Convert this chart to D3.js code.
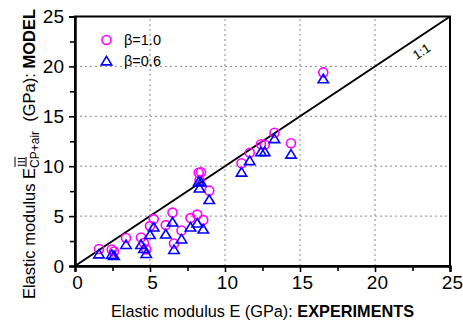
<!DOCTYPE html>
<html>
<head>
<meta charset="utf-8">
<script src="https://cdn.jsdelivr.net/npm/d3@7"></script>
<style>
  html, body { margin: 0; padding: 0; background: #fff; }
  svg { display: block; font-family: "Liberation Sans", Arial, Helvetica, sans-serif; }
</style>
</head>
<body>
<svg id="chart" width="463" height="327"></svg>
<script>
// Measured elastic modulus E (GPa)
const experiments = [1.6, 2.45, 2.6, 3.4, 4.4, 4.6, 4.75, 5.0, 5.25, 6.05, 6.5, 6.6, 7.1, 7.7,
  8.15, 8.55, 8.25, 8.4, 8.3, 8.95, 11.1, 11.65, 12.4, 12.65, 13.3, 14.4, 16.55];
// Model prediction with beta = 1.0
const modelBeta10 = [1.7, 1.65, 1.45, 2.8, 2.85, 2.3, 1.65, 4.0, 4.7, 4.1, 5.35, 2.25, 3.55, 4.8,
  5.15, 4.6, 9.35, 9.4, 8.6, 7.55, 10.3, 11.35, 12.2, 12.15, 13.35, 12.3, 19.4];
// Model prediction with beta = 0.6
const modelBeta06 = [1.2, 1.15, 1.05, 2.15, 2.15, 1.75, 1.25, 3.15, 3.9, 3.2, 4.4, 1.65, 2.7, 3.9,
  4.3, 3.7, 8.45, 8.4, 7.8, 6.65, 9.4, 10.55, 11.45, 11.45, 12.75, 11.2, 18.75];

const majorTicks = [0, 5, 10, 15, 20, 25];
const minorTicks = [2.5, 7.5, 12.5, 17.5, 22.5];
const legendLabels = ["\u03B2=1.0", "\u03B2=0.6"];

const svg = d3.select("#chart");
const plotLeft = 75, plotRight = 450, plotTop = 16.5, plotBottom = 266;
const x = d3.scaleLinear().domain([0, 25]).range([plotLeft, plotRight]);
const y = d3.scaleLinear().domain([0, 25]).range([plotBottom, plotTop]);

const MAGENTA = "#ff00ff", BLUE = "#0000ff";

// dotted grid
const grid = svg.append("g");
grid.selectAll("line.gx").data(majorTicks.slice(1, -1)).join("line")
  .attr("x1", d => x(d)).attr("x2", d => x(d)).attr("y1", y(0)).attr("y2", y(25))
  .attr("stroke", "#888").attr("stroke-width", 1).attr("stroke-dasharray", "2,3");
grid.selectAll("line.gy").data(majorTicks.slice(1, -1)).join("line")
  .attr("y1", d => y(d)).attr("y2", d => y(d)).attr("x1", x(0)).attr("x2", x(25))
  .attr("stroke", "#888").attr("stroke-width", 1).attr("stroke-dasharray", "2,3");

// 1:1 line with its label just below it
svg.append("line")
  .attr("x1", x(0)).attr("y1", y(0)).attr("x2", x(25)).attr("y2", y(25))
  .attr("stroke", "#000").attr("stroke-width", 2);
const ang = Math.atan2(y(0) - y(25), x(25) - x(0)) * 180 / Math.PI;
svg.append("text")
  .attr("transform", `translate(${x(23.1)},${y(23.1) + 16}) rotate(${-ang})`)
  .attr("text-anchor", "middle")
  .attr("dy", "0.35em")
  .attr("font-size", 13)
  .text("1:1");

// markers
const rows = experiments.map((e, i) => ({ e, b10: modelBeta10[i], b06: modelBeta06[i] }));
const triPath = "M0,-4.6L5.2,3.9L-5.2,3.9Z";

svg.append("g").selectAll("circle").data(rows).join("circle")
  .attr("cx", d => x(d.e)).attr("cy", d => y(d.b10)).attr("r", 4.5)
  .attr("fill", "none").attr("stroke", MAGENTA).attr("stroke-width", 1.6);
svg.append("g").selectAll("path").data(rows).join("path")
  .attr("transform", d => `translate(${x(d.e)},${y(d.b06)})`)
  .attr("d", triPath)
  .attr("fill", "none").attr("stroke", BLUE).attr("stroke-width", 1.6);

// frame
svg.append("rect")
  .attr("x", x(0)).attr("y", y(25)).attr("width", x(25) - x(0)).attr("height", y(0) - y(25))
  .attr("fill", "none").attr("stroke", "#000").attr("stroke-width", 2);

// axes
const fmt = d3.format("d");
const xAxis = svg.append("g").attr("transform", `translate(0,${plotBottom})`)
  .call(d3.axisBottom(x).tickValues(majorTicks).tickSize(6).tickFormat(fmt));
const xMinor = svg.append("g").attr("transform", `translate(0,${plotBottom})`)
  .call(d3.axisBottom(x).tickValues(minorTicks).tickSize(5).tickFormat(""));
const yAxis = svg.append("g").attr("transform", `translate(${plotLeft},0)`)
  .call(d3.axisLeft(y).tickValues(majorTicks).tickSize(6).tickFormat(fmt));
const yMinor = svg.append("g").attr("transform", `translate(${plotLeft},0)`)
  .call(d3.axisLeft(y).tickValues(minorTicks).tickSize(5).tickFormat(""));

[xAxis, xMinor, yAxis, yMinor].forEach(g => {
  g.select(".domain").attr("stroke-width", 2);
  g.selectAll(".tick line").attr("stroke-width", 1.6);
  g.selectAll("text").attr("font-family", null).attr("font-size", 19).attr("fill", "#000");
});
xAxis.selectAll(".tick text").attr("y", 10).attr("dx", "0.1em");
yAxis.selectAll(".tick text").attr("x", -11);

// x axis title
const xt = svg.append("text")
  .attr("x", (plotLeft + plotRight) / 2).attr("y", 317)
  .attr("text-anchor", "middle").attr("font-size", 16.3);
xt.append("tspan").text("Elastic modulus E (GPa):\u00A0");
xt.append("tspan").attr("font-weight", "bold").text("EXPERIMENTS");

// y axis title, built piece by piece so the super/subscripts can be stacked
const yt = svg.append("g").attr("transform", `translate(35,154) rotate(-90)`);
let cursor = 0;
function piece(str, opts) {
  return yt.append("text").attr("x", cursor).attr("y", opts.dy || 0)
    .attr("font-size", opts.size || 16.5).attr("font-weight", opts.weight || "normal")
    .text(str);
}
const p1 = piece("Elastic modulus E", {}); cursor += p1.node().getComputedTextLength();
const sup = piece("III", { size: 10, dy: -10.5 })
  .attr("font-family", "'Liberation Serif', 'Times New Roman', serif")
  .attr("text-decoration", "overline underline")
  .attr("x", cursor + 1);
const sub = piece("CP+air", { size: 12, dy: 4 });
cursor += Math.max(sup.node().getComputedTextLength(), sub.node().getComputedTextLength());
const p2 = piece("\u00A0\u00A0(GPa):\u00A0", {}); cursor += p2.node().getComputedTextLength();
const p3 = piece("MODEL", { weight: "bold" }); cursor += p3.node().getComputedTextLength();
yt.selectAll("text").attr("transform", `translate(${-cursor / 2},0)`);

// legend
const leg = svg.append("g");
const legX = 106.5, legY = [40, 61];
leg.append("circle").attr("cx", legX).attr("cy", legY[0]).attr("r", 4.5)
  .attr("fill", "none").attr("stroke", MAGENTA).attr("stroke-width", 1.6);
leg.append("path").attr("transform", `translate(${legX},${legY[1]})`).attr("d", triPath)
  .attr("fill", "none").attr("stroke", BLUE).attr("stroke-width", 1.6);
leg.selectAll("text").data(legendLabels).join("text")
  .attr("x", 124).attr("y", (d, i) => legY[i] + 5)
  .attr("font-size", 14.5).text(d => d);
</script>
</body>
</html>
